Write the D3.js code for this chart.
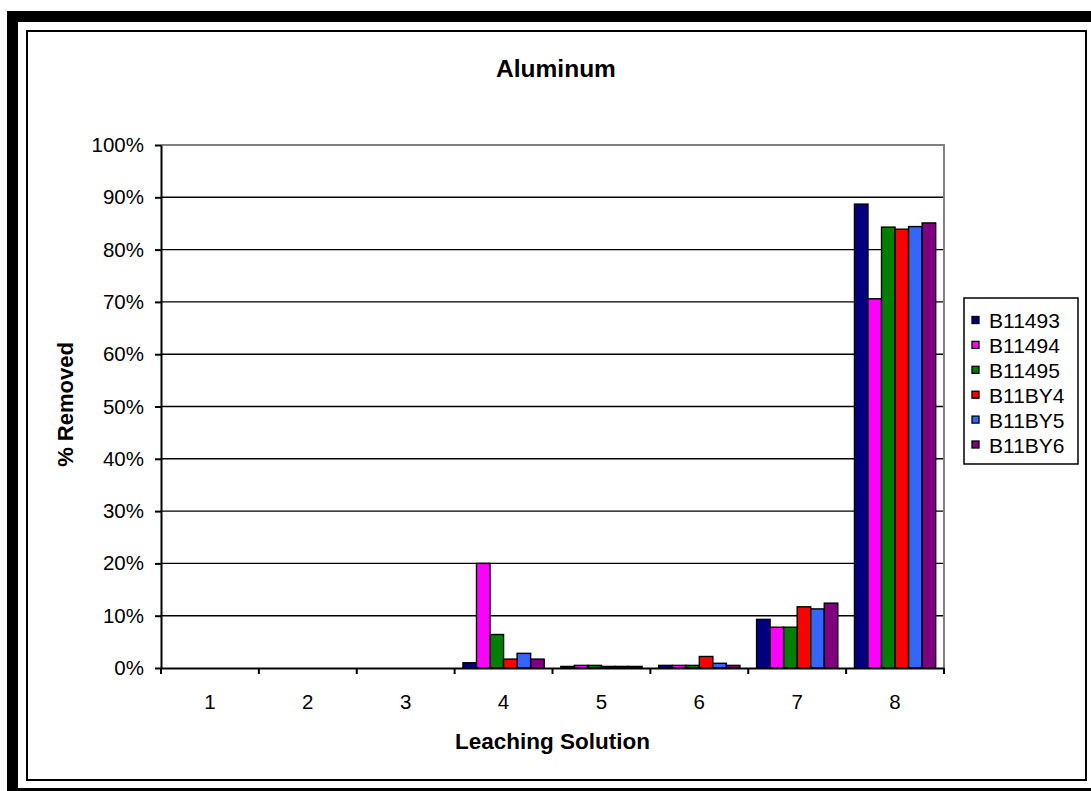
<!DOCTYPE html>
<html>
<head>
<meta charset="utf-8">
<script src="https://cdn.jsdelivr.net/npm/d3@7"></script>
<style>
  html, body { margin: 0; padding: 0; background: #fff; }
  svg { display: block; font-family: "Liberation Sans", Arial, sans-serif; }
</style>
</head>
<body>
<svg id="chart" width="1091" height="791"></svg>
<script>
// ---- data ----
const categories = ["1", "2", "3", "4", "5", "6", "7", "8"];
const seriesNames = ["B11493", "B11494", "B11495", "B11BY4", "B11BY5", "B11BY6"];
const seriesColors = ["#000080", "#FF00FF", "#008000", "#FF0000", "#3366FF", "#800080"];
const B11493 = [0, 0, 0, 1.0, 0.3, 0.5, 9.3, 88.7];
const B11494 = [0, 0, 0, 20.0, 0.5, 0.5, 7.8, 70.6];
const B11495 = [0, 0, 0, 6.4, 0.5, 0.5, 7.8, 84.3];
const B11BY4 = [0, 0, 0, 1.7, 0.3, 2.2, 11.7, 83.9];
const B11BY5 = [0, 0, 0, 2.8, 0.3, 0.9, 11.3, 84.4];
const B11BY6 = [0, 0, 0, 1.7, 0.3, 0.5, 12.4, 85.1];
const seriesValues = [B11493, B11494, B11495, B11BY4, B11BY5, B11BY6];
const yTicks = [0, 10, 20, 30, 40, 50, 60, 70, 80, 90, 100];
const titleText = "Aluminum";
const xTitle = "Leaching Solution";
const yTitle = "% Removed";

// ---- layout ----
const svg = d3.select("#chart");
const plot = { left: 161, right: 944, top: 145, bottom: 668 };

// outer frame
svg.append("rect").attr("x", 7).attr("y", 11).attr("width", 1200).attr("height", 900).attr("fill", "#000");
svg.append("rect").attr("x", 18).attr("y", 22).attr("width", 1200).attr("height", 766).attr("fill", "#fff");
svg.append("rect").attr("x", 27).attr("y", 31).attr("width", 1059).attr("height", 749)
  .attr("fill", "#fff").attr("stroke", "#000").attr("stroke-width", 2);

const x0 = d3.scaleBand().domain(categories).range([plot.left, plot.right]).paddingInner(0).paddingOuter(0);
const bw = x0.bandwidth();
const gap = bw * 0.17;
const x1 = d3.scaleBand().domain(seriesNames).range([gap / 2, bw - gap / 2]).padding(0);
const y = d3.scaleLinear().domain([0, 100]).range([plot.bottom, plot.top]);

// gridlines
svg.append("g").selectAll("line").data(yTicks.filter(d => d > 0 && d < 100)).join("line")
  .attr("x1", plot.left).attr("x2", plot.right)
  .attr("y1", d => y(d)).attr("y2", d => y(d))
  .attr("stroke", "#000").attr("stroke-width", 1.4);

// plot area border (top & right gray)
svg.append("path")
  .attr("d", `M${plot.left},${y(100)}H${plot.right}V${plot.bottom}`)
  .attr("fill", "none").attr("stroke", "#808080").attr("stroke-width", 2);

// bars
const groups = svg.append("g").selectAll("g").data(categories).join("g")
  .attr("transform", d => `translate(${x0(d)},0)`);
groups.selectAll("rect")
  .data((c, ci) => seriesNames.map((s, si) => ({ s, si, v: seriesValues[si][ci] })))
  .join("rect")
  .filter(d => d.v > 0)
  .attr("x", d => x1(d.s))
  .attr("y", d => y(d.v))
  .attr("width", x1.bandwidth())
  .attr("height", d => y(0) - y(d.v))
  .attr("fill", d => seriesColors[d.si])
  .attr("stroke", "#000").attr("stroke-width", 1.4);

// y axis
const yAxis = svg.append("g").attr("transform", `translate(${plot.left},0)`)
  .call(d3.axisLeft(y).tickValues(yTicks).tickFormat(d => d + "%").tickSize(6).tickSizeOuter(0).tickPadding(11));
yAxis.select(".domain").attr("stroke", "#000").attr("stroke-width", 2);
yAxis.selectAll(".tick line").attr("stroke", "#000").attr("stroke-width", 2);
yAxis.selectAll(".tick text").attr("font-size", 20.5).attr("fill", "#000")
  .attr("font-family", "Liberation Sans, Arial, sans-serif");

// x axis
const xAxis = svg.append("g").attr("transform", `translate(0,${plot.bottom})`)
  .call(d3.axisBottom(x0).tickSize(0).tickSizeOuter(0).tickPadding(26));
xAxis.select(".domain").attr("stroke", "#000").attr("stroke-width", 2);
xAxis.selectAll(".tick text").attr("font-size", 20.5).attr("fill", "#000")
  .attr("font-family", "Liberation Sans, Arial, sans-serif");
const boundaries = categories.map(c => x0(c)).concat([plot.right]);
xAxis.append("g").selectAll("line").data(boundaries).join("line")
  .attr("x1", d => d).attr("x2", d => d).attr("y1", 0).attr("y2", 6)
  .attr("stroke", "#000").attr("stroke-width", 2);

// titles
svg.append("text").attr("x", 556).attr("y", 77).attr("text-anchor", "middle")
  .attr("font-size", 24.5).attr("font-weight", "bold").text(titleText);
svg.append("text").attr("x", (plot.left + plot.right) / 2).attr("y", 749).attr("text-anchor", "middle")
  .attr("font-size", 22.5).attr("font-weight", "bold").text(xTitle);
svg.append("text").attr("transform", `translate(73,${(plot.top + plot.bottom) / 2 - 2}) rotate(-90)`)
  .attr("text-anchor", "middle").attr("font-size", 22).attr("font-weight", "bold").text(yTitle);

// legend
const leg = svg.append("g");
leg.append("rect").attr("x", 964).attr("y", 298).attr("width", 114).attr("height", 166)
  .attr("fill", "#fff").attr("stroke", "#000").attr("stroke-width", 1.5);
const items = leg.selectAll("g.item").data(seriesNames).join("g").attr("class", "item")
  .attr("transform", (d, i) => `translate(972,${320.5 + i * 24.9})`);
items.append("rect").attr("x", 0).attr("y", -4).attr("width", 7).attr("height", 7)
  .attr("fill", (d, i) => seriesColors[i]).attr("stroke", "#000").attr("stroke-width", 1.3);
items.append("text").attr("x", 17).attr("y", 7.5).attr("font-size", 21).attr("fill", "#000").text(d => d);
</script>
</body>
</html>
